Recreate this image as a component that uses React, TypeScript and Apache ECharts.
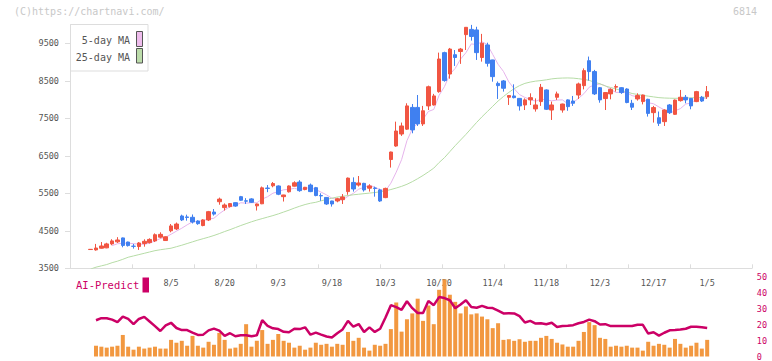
import React, { useEffect, useRef } from "react";
import * as echarts from "echarts";

const categories = [
  "7/14","7/15","7/16","7/17","7/18","7/22","7/23","7/24","7/25","7/28","7/29","7/30","7/31",
  "8/1","8/4","8/5","8/6","8/7","8/8","8/12","8/13","8/14","8/15","8/18","8/19","8/20","8/21","8/22","8/25","8/26","8/27","8/28","8/29",
  "9/1","9/2","9/3","9/4","9/5","9/8","9/9","9/10","9/11","9/12","9/16","9/17","9/18","9/19","9/22","9/24","9/25","9/26","9/29","9/30",
  "10/1","10/2","10/3","10/6","10/7","10/8","10/9","10/10","10/14","10/15","10/16","10/17","10/20","10/21","10/22","10/23","10/24","10/27","10/28","10/29","10/30","10/31",
  "11/4","11/5","11/6","11/7","11/10","11/11","11/12","11/13","11/14","11/17","11/18","11/19","11/20","11/21","11/25","11/26","11/27","11/28",
  "12/1","12/2","12/3","12/4","12/5","12/8","12/9","12/10","12/11","12/12","12/15","12/16","12/17","12/18","12/19","12/22","12/23","12/24","12/25","12/26","12/29","12/30",
  "1/5",
];

const tickLabels = ["8/5","8/20","9/3","9/18","10/3","10/20","11/4","11/18","12/3","12/17","1/5"];
const priceTicks = [3500, 4500, 5500, 6500, 7500, 8500, 9500];

const opens = [
  4000,3990,4035,4045,4150,4205,4310,4200,4090,4080,4160,4185,4230,4330,4240,4500,4550,4895,4870,4860,
  4761,4640,4788,5000,5275,5118,5145,5250,5410,5300,5350,5165,5220,5640,5700,5695,5410,5540,5690,5800,
  5600,5720,5650,5440,5390,5295,5295,5330,5545,5790,5720,5765,5635,5640,5590,5385,6400,6760,7080,7210,
  7790,7790,7350,7830,7855,8210,9250,8680,9195,9280,9730,9870,9855,9120,9455,9055,8430,8495,8060,8095,
  8030,7855,7990,7750,7945,8255,7720,8060,7720,7990,7960,8120,8370,9035,8745,8315,8025,8150,8330,8315,
  8280,7900,8015,7945,8005,7650,7515,7410,7855,7605,7970,8060,8030,7945,8060,8075,
];
const closes = [
  4006,4040,4095,4150,4230,4255,4110,4105,4085,4175,4220,4270,4395,4405,4340,4630,4680,4790,4855,4735,
  4690,4790,5010,4945,5345,5188,5225,5160,5315,5290,5260,5215,5645,5630,5760,5475,5455,5695,5780,5570,
  5660,5545,5440,5430,5215,5215,5355,5400,5905,5615,5775,5590,5695,5630,5295,5630,6600,7160,7295,7830,
  7190,7350,7700,8340,8095,9080,8505,9345,9120,9345,9925,9680,9250,9500,8965,8610,8370,8300,8105,8050,
  7830,7990,8050,7855,8325,7740,7855,8150,7880,7810,7900,8415,8770,8745,8150,7990,8185,8270,8345,8185,
  7920,7795,8105,8120,7630,7785,7365,7720,7650,7985,8060,7990,7830,8210,7960,8210,
];
const lows = [
  3995,3970,4025,4035,4115,4175,4060,4080,4025,3990,4076,4160,4200,4300,4230,4460,4520,4760,4770,4695,
  4660,4620,4760,4905,5195,5040,5120,5140,5300,5215,5240,5040,5210,5530,5660,5450,5280,5520,5680,5540,
  5580,5530,5420,5300,5190,5145,5260,5215,5460,5545,5680,5545,5545,5410,5270,5370,6185,6740,7030,7190,
  7100,7295,7295,7720,7840,8180,8475,8555,8895,8950,9320,9570,9055,9010,8877,8475,8015,8210,7855,8030,
  7705,7720,7855,7677,7830,7720,7455,7988,7650,7700,7830,8015,8270,8505,8120,7915,7720,8005,8210,8150,
  7900,7720,7970,7870,7545,7385,7295,7295,7615,7590,7945,7900,7740,7930,7935,8015,
];
const highs = [
  4012,4150,4200,4180,4275,4330,4320,4210,4150,4200,4273,4300,4430,4460,4350,4680,4720,4930,4930,4935,
  4780,4810,5030,5080,5385,5230,5240,5260,5430,5370,5370,5225,5680,5720,5800,5710,5460,5710,5820,5850,
  5670,5760,5670,5500,5400,5300,5380,5480,5920,5925,5960,5780,5740,5677,5620,5650,6610,7410,7385,7900,
  7880,8120,7830,8370,8150,9250,9275,9375,9320,9375,9930,9990,9940,9750,9515,9060,8480,8520,8120,8405,
  8040,8030,8165,8030,8415,8270,7945,8210,7890,8005,8095,8450,8830,9145,8790,8330,8200,8300,8405,8330,
  8300,7990,8165,8130,8020,7830,7680,7740,7880,8000,8255,8120,8040,8230,8095,8360,
];

const ma5 = [
  "-","-","-","-",4104,4154,4168,4170,4157,4146,4139,4171,4229,4293,4326,4408,4490,4569,4659,4738,
  4750,4772,4816,4834,4956,5056,5143,5173,5247,5236,5250,5248,5345,5408,5502,5545,5593,5603,5633,5595,
  5632,5650,5599,5529,5458,5369,5331,5323,5418,5498,5610,5657,5716,5661,5597,5568,5770,6063,6396,6903,
  7215,7365,7473,7682,7735,8113,8344,8673,8829,9079,9248,9483,9464,9540,9464,9201,8939,8749,8470,8287,
  8131,8055,8005,7955,8010,7992,7965,7985,7990,7887,7919,8031,8155,8328,8396,8414,8368,8268,8188,8195,
  8181,8103,8070,8025,7914,7887,7801,7724,7630,7701,7756,7881,7903,8015,8010,8040,
];
const ma25 = [
  3480,3530,3565,3600,3650,3690,3740,3795,3830,3865,3900,3935,3970,3995,4015,4035,4075,4115,4160,4205,
  4250,4290,4330,4375,4425,4480,4530,4585,4640,4690,4740,4785,4825,4865,4905,4950,5000,5050,5105,5155,
  5200,5235,5260,5300,5335,5370,5400,5420,5440,5460,5475,5490,5505,5520,5540,5565,5600,5640,5685,5740,
  5810,5890,5975,6070,6170,6320,6450,6610,6770,6920,7070,7230,7390,7540,7680,7820,7960,8080,8190,8290,
  8370,8430,8465,8490,8505,8525,8550,8565,8572,8575,8570,8555,8535,8510,8460,8420,8360,8320,8280,8240,
  8205,8160,8135,8110,8090,8070,8050,8040,8035,8032,8035,8040,8045,8050,8058,8065,
];

const aiBars = [
  "-",6.8,6.2,5.6,6.2,6.8,13.6,6.2,4.3,6.2,5.0,5.6,6.2,5.0,5.0,10.5,8.7,9.9,6.8,13.0,
  6.8,5.6,9.3,7.4,14.9,10.5,5.0,5.6,8.0,20.4,6.2,9.9,16.7,8.0,10.5,14.2,9.9,8.7,5.6,6.8,
  4.3,5.6,8.7,7.4,8.0,6.2,8.0,7.4,15.5,9.9,11.8,5.6,3.7,7.4,6.8,8.0,17.3,34.1,15.7,23.5,
  27.2,36.5,22.5,32.2,20.4,42.1,48.7,39.0,34.5,27.2,31.6,26.6,27.2,25.2,23.5,17.9,21.0,10.5,10.9,9.9,
  10.9,9.3,9.9,9.9,11.8,13.0,11.1,8.7,7.6,6.2,6.2,9.9,15.5,21.7,19.8,11.8,11.1,6.2,6.8,6.2,
  6.8,5.6,5.6,3.7,9.3,6.8,8.0,7.4,5.6,11.1,8.0,5.6,6.8,8.7,5.0,10.5,
];
const aiLine = [
  "-",22.9,24.2,24.2,23.3,21.7,25.2,23.7,20.4,23.7,25.0,22.1,19.2,16.1,19.6,21.3,18.0,16.7,16.7,15.1,
  13.6,13.8,16.5,17.6,16.3,13.0,14.7,12.8,13.4,13.4,12.8,13.4,22.9,19.4,17.8,17.3,15.6,15.3,17.5,17.3,
  18.4,13.8,15.1,13.8,12.6,12.0,14.7,17.1,22.5,18.8,20.5,15.5,18.4,15.5,17.5,24.6,32.4,31.2,29.5,34.9,
  30.5,27.5,27.5,35.0,32.4,37.5,36.9,35.5,30.5,32.8,35.5,31.2,30.8,32.0,30.8,30.6,29.0,27.2,27.3,27.2,
  25.5,21.5,22.5,20.8,21.0,20.4,21.3,18.6,19.2,19.4,19.8,21.0,21.8,23.3,22.3,20.2,20.4,19.2,19.2,19.2,
  19.2,19.2,20.0,20.0,14.5,15.3,13.2,15.0,16.5,16.7,17.0,17.5,18.8,18.8,18.4,18.0,
];

const MONO = "'DejaVu Sans Mono', 'Liberation Mono', monospace";

export default function App() {
  const ref = useRef<HTMLDivElement>(null);
  useEffect(() => {
    if (!ref.current) return;
    const chart = echarts.init(ref.current, null, { renderer: "svg" });
    const candles = categories.map((_, i) => [opens[i], closes[i], lows[i], highs[i]]);
    const top = 24.5;
    const bottom = 92.7;
    const cLeft = 87.96;
    const cWidth = 621.9;
    chart.setOption({
      animation: false,
      textStyle: { fontFamily: MONO },
      grid: [
        { left: 70, right: 20, top, bottom },
        { left: cLeft, width: cWidth, top, bottom },
        { left: cLeft, width: cWidth, top: 277.3, bottom: 3 },
      ],
      xAxis: [
        {
          gridIndex: 0, type: "value", min: 0, max: 11, interval: 1,
          axisLine: { show: true, lineStyle: { color: "#dddddd", width: 1 } },
          axisTick: { show: true, inside: true, length: 4, lineStyle: { color: "#dddddd" } },
          axisLabel: { show: false }, splitLine: { show: false },
        },
        {
          gridIndex: 1, type: "category", data: categories, boundaryGap: true,
          axisLine: { show: false }, axisTick: { show: false }, splitLine: { show: false },
          axisLabel: {
            interval: (_i: number, v: string) => tickLabels.includes(v),
            color: "#555555", fontSize: 8.5, margin: 10, fontFamily: MONO,
          },
        },
        { gridIndex: 2, type: "category", data: categories, boundaryGap: true, show: false },
      ],
      yAxis: [
        {
          gridIndex: 0, type: "value", min: 3500, max: 10000, interval: 1000,
          axisLine: { show: true, lineStyle: { color: "#dddddd" } },
          axisTick: { show: true, length: 5, customValues: priceTicks, lineStyle: { color: "#dddddd" } },
          axisLabel: {
            customValues: priceTicks, color: "#555555", fontSize: 8.5, margin: 11, fontFamily: MONO,
            formatter: (v: number) => String(v),
          },
          splitLine: { show: false },
        },
        { gridIndex: 1, type: "value", min: 3500, max: 10000, show: false },
        {
          gridIndex: 2, type: "value", min: 0, max: 50, interval: 10, position: "right",
          axisLine: { show: false }, axisTick: { show: false }, splitLine: { show: false },
          axisLabel: { color: "#cc0066", fontSize: 8.5, margin: 47, align: "left", fontFamily: MONO },
        },
      ],
      series: [
        {
          type: "line", name: "5-day MA", xAxisIndex: 1, yAxisIndex: 1, data: ma5,
          symbol: "none", z: 1, lineStyle: { color: "#e6b4ec", width: 1 },
        },
        {
          type: "line", name: "25-day MA", xAxisIndex: 1, yAxisIndex: 1, data: ma25,
          symbol: "none", z: 1, lineStyle: { color: "#b6dca6", width: 1 },
        },
        {
          type: "candlestick", xAxisIndex: 1, yAxisIndex: 1, data: candles, barWidth: 4, z: 3,
          itemStyle: { color: "#f15542", color0: "#4080f0", borderColor: "#f15542", borderColor0: "#4080f0", borderWidth: 1 },
        },
        {
          type: "bar", xAxisIndex: 2, yAxisIndex: 2, data: aiBars, barWidth: 4,
          itemStyle: { color: "#f29840" },
        },
        {
          type: "line", xAxisIndex: 2, yAxisIndex: 2, data: aiLine, symbol: "none",
          lineStyle: { color: "#cc0066", width: 2.5 }, z: 4,
        },
      ],
      graphic: [
        { type: "text", left: 14, top: 6, style: { text: "(C)https://chartnavi.com/", fill: "#c8c8c8", fontSize: 10, fontFamily: MONO } },
        { type: "text", right: 15, top: 6, style: { text: "6814", fill: "#c8c8c8", fontSize: 10, fontFamily: MONO } },
        { type: "rect", shape: { x: 70.5, y: 24.5, width: 77.5, height: 46.5 }, style: { fill: "#ffffff", stroke: "#dddddd", lineWidth: 1 }, z: 10 },
        { type: "text", x: 130, y: 40.5, style: { text: "5-day MA", fill: "#555555", fontSize: 10, fontFamily: MONO, align: "right", verticalAlign: "middle" }, z: 11 },
        { type: "text", x: 130, y: 57, style: { text: "25-day MA", fill: "#555555", fontSize: 10, fontFamily: MONO, align: "right", verticalAlign: "middle" }, z: 11 },
        { type: "rect", shape: { x: 136.5, y: 31.5, width: 6, height: 15 }, style: { fill: "#eebcec", stroke: "#555555", lineWidth: 1 }, z: 11 },
        { type: "rect", shape: { x: 136.5, y: 48.5, width: 6, height: 14.5 }, style: { fill: "#bcdcaa", stroke: "#555555", lineWidth: 1 }, z: 11 },
        { type: "text", x: 76, y: 285, style: { text: "AI-Predict", fill: "#cc0066", fontSize: 10.5, fontFamily: MONO, verticalAlign: "middle" } },
        { type: "rect", shape: { x: 142.5, y: 277.5, width: 6.5, height: 15 }, style: { fill: "#cc0066" } },
      ],
    });
    return () => chart.dispose();
  }, []);
  return (
    <div
      ref={ref}
      style={{ position: "absolute", left: 0, top: 0, width: 772, height: 361, background: "#ffffff" }}
    />
  );
}
